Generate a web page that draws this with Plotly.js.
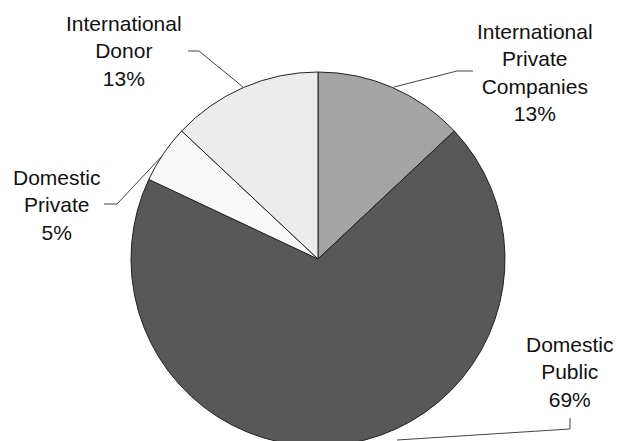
<!DOCTYPE html>
<html>
<head>
<meta charset="utf-8">
<script src="https://cdn.plot.ly/plotly-3.0.1.min.js"></script>
<style>
  html, body { margin: 0; padding: 0; overflow: hidden; background: #fff; }
  #chart { width: 618px; height: 450px; }
</style>
</head>
<body>
<div id="chart"></div>
<script>
// Data
const categories = ["International Private Companies", "Domestic Public", "Domestic Private", "International Donor"];
const shares = [13, 69, 5, 13];
const sliceColors = ["#a4a4a4", "#585858", "#f8f8f8", "#ececec"];

const W = 618, H = 450;
const px = x => x / W;
const py = y => 1 - y / H;

// label block centres (layout)
const labelPos = [
  [535, 72],
  [570, 372],
  [57, 205],
  [124, 51]
];
// leader lines (layout)
const leaders = [
  [[394, 87], [457, 71], [473, 71]],
  [[397, 440], [570, 429], [570, 418]],
  [[163, 155], [117, 204], [104, 204]],
  [[243, 87], [199, 51], [188, 51]]
];

const annotations = categories.map((c, i) => ({
  xref: 'paper', yref: 'paper',
  x: px(labelPos[i][0]), y: py(labelPos[i][1]),
  xanchor: 'center', yanchor: 'middle', align: 'center',
  showarrow: false,
  text: c.split(' ').join('<br>') + '<br>' + shares[i] + '%',
  font: { family: 'Liberation Sans, Arial, sans-serif', size: 21, color: '#111' }
}));

const shapes = leaders.map(pts => ({
  type: 'path', xref: 'paper', yref: 'paper',
  path: pts.map((p, k) => (k ? 'L' : 'M') + px(p[0]) + ',' + py(p[1])).join(' '),
  line: { color: '#444', width: 1 }
}));

const trace = {
  type: 'pie',
  labels: categories,
  values: shares,
  sort: false,
  direction: 'clockwise',
  rotation: 0,
  textinfo: 'none',
  hoverinfo: 'none',
  marker: { colors: sliceColors, line: { color: '#222', width: 1 } },
  domain: { x: [131 / W, 505 / W], y: [1 - 446 / H, 1 - 72 / H] },
  showlegend: false
};

Plotly.newPlot('chart', [trace], {
  width: W, height: H,
  margin: { l: 0, r: 0, t: 0, b: 0 },
  paper_bgcolor: '#fff',
  showlegend: false,
  annotations: annotations,
  shapes: shapes
}, { staticPlot: true });
</script>
</body>
</html>
